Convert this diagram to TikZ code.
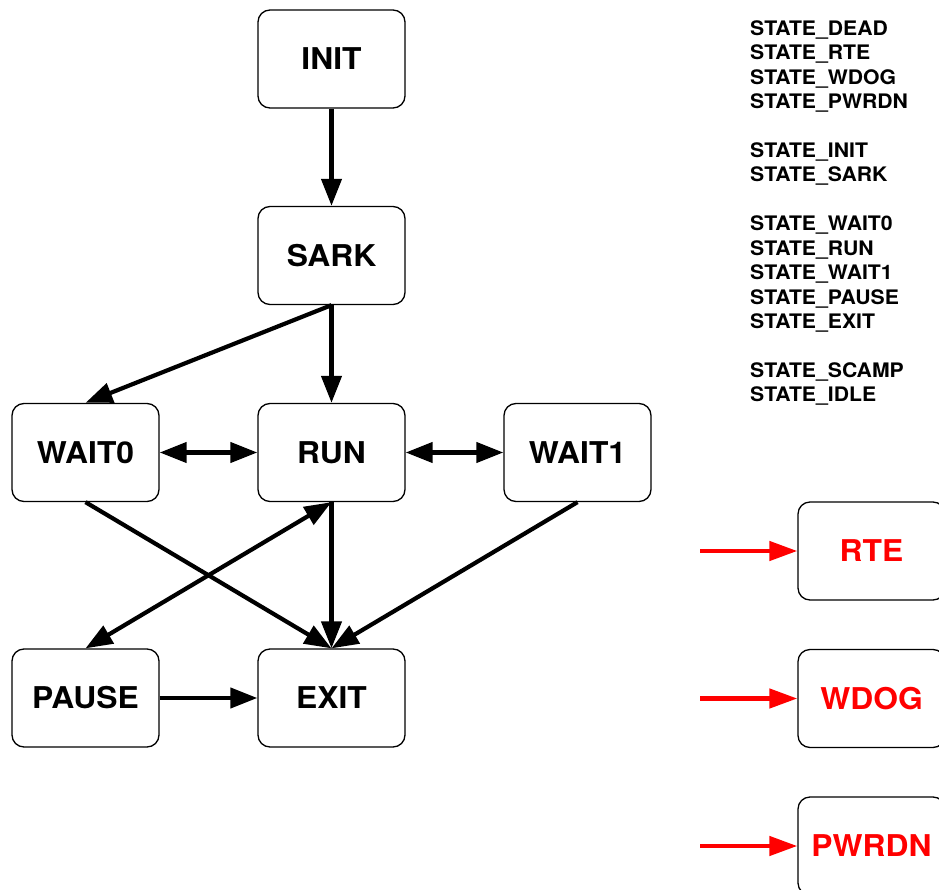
\documentclass[tikz,border=0pt]{standalone}
\usepackage{fontspec}
\setmainfont[FakeStretch=1.06]{TeX Gyre Heros}
\usetikzlibrary{arrows.meta}
\begin{document}
\begin{tikzpicture}[x=1pt,y=-1pt,
  state/.style={draw, line width=1.3pt, rounded corners=12pt,
    minimum width=147pt, minimum height=98pt, inner sep=0pt,
    font=\fontsize{30}{36}\selectfont\bfseries},
  fault/.style={state, text=red},
  flow/.style={line width=4.2pt, -{Triangle[length=27pt,width=20pt]}},
  both/.style={line width=4.2pt,
    {Triangle[length=27pt,width=20pt]}-{Triangle[length=27pt,width=20pt]}},
  trigger/.style={line width=4.5pt, red, -{Triangle[length=28pt,width=19pt]}},
  code/.style={anchor=base west, inner sep=0pt,
    font=\fontsize{20}{24}\selectfont\bfseries}]
\useasboundingbox (0,0) rectangle (939,890);
\clip (0,0) rectangle (939,890);

% main state machine
\node[state] (init)  at (331.5,59)    {INIT};
\node[state] (sark)  at (331.5,255.5) {SARK};
\node[state] (wait0) at (85.5,452.5)  {WAIT0};
\node[state] (run)   at (331.5,452.5) {RUN};
\node[state] (wait1) at (577.5,452.5) {WAIT1};
\node[state] (pause) at (85.5,698)    {PAUSE};
\node[state] (exit)  at (331.5,698)   {EXIT};

% fault states
\node[fault] (rte)   at (871.5,551)   {RTE};
\node[fault] (wdog)  at (871.5,698.5) {WDOG};
\node[fault] (pwrdn) at (871.5,846)   {PWRDN};

\coordinate (rtein)   at (700,551);
\coordinate (wdogin)  at (700,698.5);
\coordinate (pwrdnin) at (700,846);

% transitions
\draw[flow] (init.south) -- (sark.north);
\draw[flow] (sark.south) -- (run.north);
\draw[flow] (sark.south) -- (wait0.north);
\draw[both] (wait0.east) -- (run.west);
\draw[both] (run.east) -- (wait1.west);
\draw[both] (run.south) -- (pause.north);
\draw[flow] (wait0.south) -- (exit.north);
\draw[flow] (run.south) -- (exit.north);
\draw[flow] (wait1.south) -- (exit.north);
\draw[flow] (pause.east) -- (exit.west);

\draw[trigger] (rtein) -- (rte.west);
\draw[trigger] (wdogin) -- (wdog.west);
\draw[trigger] (pwrdnin) -- (pwrdn.west);

% state code list
\foreach \txt/\k in {STATE\_DEAD/0, STATE\_RTE/1, STATE\_WDOG/2, STATE\_PWRDN/3,
    STATE\_INIT/5, STATE\_SARK/6,
    STATE\_WAIT0/8, STATE\_RUN/9, STATE\_WAIT1/10, STATE\_PAUSE/11, STATE\_EXIT/12,
    STATE\_SCAMP/14, STATE\_IDLE/15}
  \node[code] (s\k) at (750,35.2+24.45*\k) {\txt};
\end{tikzpicture}
\end{document}
